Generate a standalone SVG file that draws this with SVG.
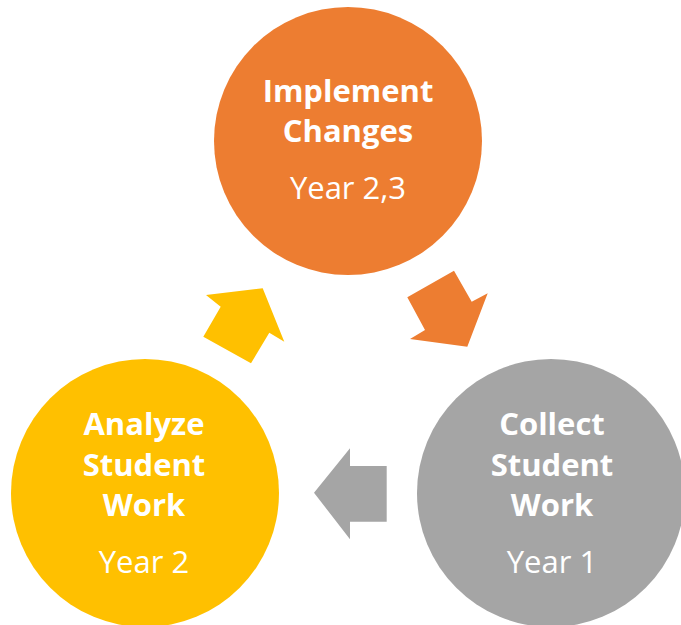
<svg xmlns="http://www.w3.org/2000/svg" width="681" height="625" viewBox="0 0 681 625">
<style>
.t{font-family:"Open Sans","Liberation Sans",sans-serif;font-size:31px;fill:#fff;text-anchor:middle}
.b{font-weight:bold}
</style>
<rect width="681" height="625" fill="#fff"/>
<g id="connectors">
<polygon fill="#ED7D31" points="454,270.7 471.7,301.7 487.7,293.3 467.3,346.7 410,339 425,330 407.3,297.3"/>
<polygon fill="#A5A5A5" points="314,492.7 350,448.3 350,466 386.7,466 386.7,521.7 350,521.7 350,539.3"/>
<polygon fill="#FFC000" points="262.7,288.3 284.3,341.7 269.3,332.7 251,363.3 203.3,336.7 220.7,306.7 206,295"/>
</g>
<g id="implement">
<circle cx="348" cy="141" r="134" fill="#ED7D31"/>
<text class="t b" x="348" y="102">Implement</text>
<text class="t b" x="348" y="142">Changes</text>
<text class="t" x="348" y="199">Year 2,3</text>
</g>
<g id="collect">
<circle cx="551" cy="493" r="134" fill="#A5A5A5"/>
<text class="t b" x="552" y="435">Collect</text>
<text class="t b" x="552" y="476">Student</text>
<text class="t b" x="552" y="516">Work</text>
<text class="t" x="552" y="573">Year 1</text>
</g>
<g id="analyze">
<circle cx="145" cy="493" r="134" fill="#FFC000"/>
<text class="t b" x="144" y="435">Analyze</text>
<text class="t b" x="144" y="476">Student</text>
<text class="t b" x="144" y="516">Work</text>
<text class="t" x="144" y="573">Year 2</text>
</g>
</svg>
